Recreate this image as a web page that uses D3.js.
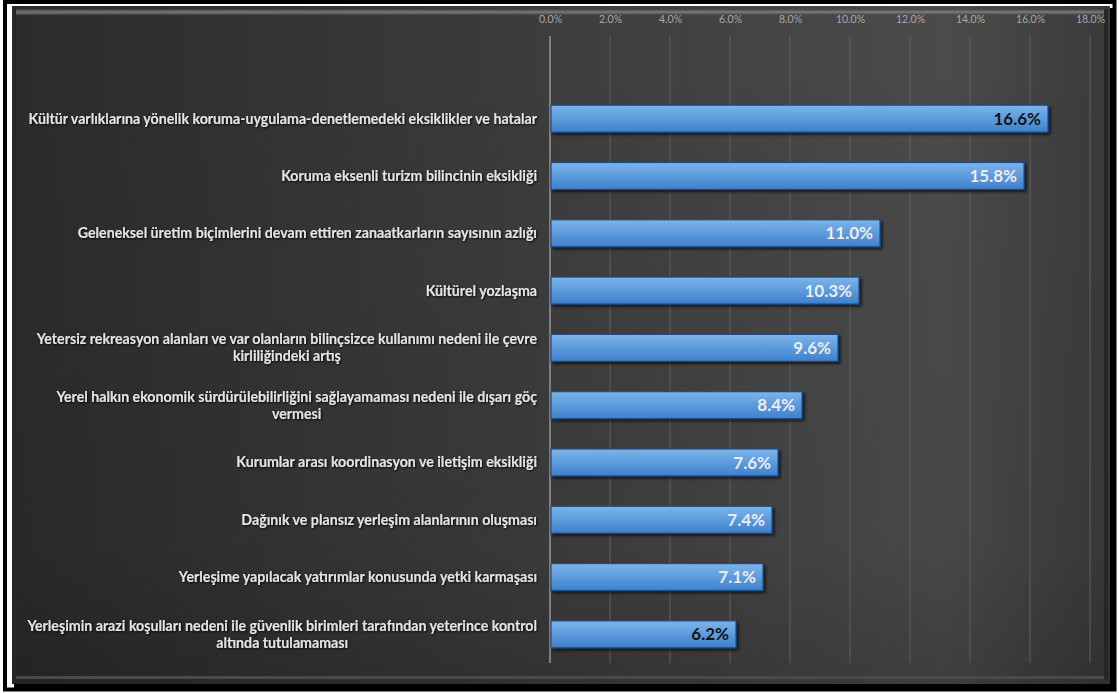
<!DOCTYPE html>
<html><head><meta charset="utf-8">
<script src="https://cdn.jsdelivr.net/npm/d3@7"></script>
<style>html,body{margin:0;padding:0;background:#fff;}svg{display:block;}</style>
</head><body>
<script>
const categories = [
  "Kültür varlıklarına yönelik koruma-uygulama-denetlemedeki eksiklikler ve hatalar",
  "Koruma eksenli turizm bilincinin eksikliği",
  "Geleneksel üretim biçimlerini devam ettiren zanaatkarların sayısının azlığı",
  "Kültürel yozlaşma",
  "Yetersiz rekreasyon alanları ve var olanların bilinçsizce kullanımı nedeni ile çevre\nkirliliğindeki artış",
  "Yerel halkın ekonomik sürdürülebilirliğini sağlayamaması nedeni ile dışarı göç\nvermesi",
  "Kurumlar arası koordinasyon ve iletişim eksikliği",
  "Dağınık ve plansız yerleşim alanlarının oluşması",
  "Yerleşime yapılacak yatırımlar konusunda yetki karmaşası",
  "Yerleşimin arazi koşulları nedeni ile güvenlik birimleri tarafından yeterince kontrol\naltında tutulamaması"
];
const values = [0.166, 0.158, 0.110, 0.103, 0.096, 0.084, 0.076, 0.074, 0.071, 0.062];
const labelDark = [true, false, false, false, false, false, false, false, false, true];
const tickValues = [0, 0.02, 0.04, 0.06, 0.08, 0.10, 0.12, 0.14, 0.16, 0.18];

const W = 1119, H = 693;
const svg = d3.select("body").append("svg").attr("width", W).attr("height", H);
const defs = svg.append("defs");

const bg = defs.append("linearGradient").attr("id","bg").attr("x1","0").attr("x2","1").attr("y1","0").attr("y2","0");
bg.append("stop").attr("offset","0").attr("stop-color","#2b2b2b");
bg.append("stop").attr("offset","0.55").attr("stop-color","#3f3f3f");
bg.append("stop").attr("offset","0.85").attr("stop-color","#4b4b4b");
bg.append("stop").attr("offset","1").attr("stop-color","#3a3a3a");

const vg = defs.append("linearGradient").attr("id","vg").attr("x1","0").attr("x2","0").attr("y1","0").attr("y2","1");
vg.append("stop").attr("offset","0").attr("stop-color","#000").attr("stop-opacity",0);
vg.append("stop").attr("offset","0.8").attr("stop-color","#000").attr("stop-opacity",0.05);
vg.append("stop").attr("offset","1").attr("stop-color","#000").attr("stop-opacity",0.18);

const bevelTop = defs.append("linearGradient").attr("id","bt").attr("x1","0").attr("x2","0").attr("y1","0").attr("y2","1");
bevelTop.append("stop").attr("offset","0").attr("stop-color","#3a3a3a");
bevelTop.append("stop").attr("offset","0.5").attr("stop-color","#8a8a8a");
bevelTop.append("stop").attr("offset","1").attr("stop-color","#444");

const barG = defs.append("linearGradient").attr("id","barg").attr("x1","0").attr("x2","0").attr("y1","0").attr("y2","1");
barG.append("stop").attr("offset","0").attr("stop-color","#7db4ea");
barG.append("stop").attr("offset","0.5").attr("stop-color","#5c9bdc");
barG.append("stop").attr("offset","1").attr("stop-color","#3f80cc");

const sh = defs.append("filter").attr("id","tsh").attr("x","-5%").attr("y","-30%").attr("width","110%").attr("height","160%");
sh.append("feDropShadow").attr("dx",1).attr("dy",1).attr("stdDeviation",0.8).attr("flood-color","#000").attr("flood-opacity",0.9);

const bsh = defs.append("filter").attr("id","bsh").attr("x","-5%").attr("y","-30%").attr("width","110%").attr("height","180%");
bsh.append("feDropShadow").attr("dx",2).attr("dy",2).attr("stdDeviation",1.5).attr("flood-color","#000").attr("flood-opacity",0.7);

// frame
svg.append("rect").attr("x",0).attr("y",0).attr("width",W).attr("height",H).attr("fill","#fff");
svg.append("rect").attr("x",5).attr("y",2).attr("width",1109.5).attr("height",687.5)
  .attr("fill","none").attr("stroke","#000").attr("stroke-width",4);
// panel shadow
svg.append("rect").attr("x",14).attr("y",8).attr("width",1100).attr("height",681).attr("fill","#000");
// panel
svg.append("rect").attr("x",12).attr("y",6).attr("width",1098).attr("height",678).attr("fill","url(#bg)");
svg.append("rect").attr("x",12).attr("y",6).attr("width",1098).attr("height",678).attr("fill","url(#vg)");
svg.append("rect").attr("x",16).attr("y",9).attr("width",1090).attr("height",6).attr("fill","url(#bt)").attr("opacity",0.8);
svg.append("rect").attr("x",16).attr("y",676).attr("width",1090).attr("height",3).attr("fill","#4a4a4a");
svg.append("rect").attr("x",1104).attr("y",9).attr("width",4).attr("height",670).attr("fill","#262626");
svg.append("rect").attr("x",13).attr("y",9).attr("width",3).attr("height",670).attr("fill","#262626");

const x = d3.scaleLinear().domain([0, 0.18]).range([550, 1090]);
const y = d3.scaleBand().domain(categories).range([90, 663]).paddingInner(0.53).paddingOuter(0.265);
const plotTop = 36, plotBottom = 663;

// gridlines
svg.append("g").selectAll("line").data(tickValues.slice(1)).join("line")
  .attr("x1", d => x(d)).attr("x2", d => x(d))
  .attr("y1", plotTop).attr("y2", plotBottom)
  .attr("stroke", "#606060").attr("stroke-width", 1);

// top axis
const ax = svg.append("g").attr("transform", `translate(0,${plotTop})`)
  .call(d3.axisTop(x).tickValues(tickValues).tickFormat(d3.format(".1%")).tickSize(0).tickPadding(13));
ax.select(".domain").remove();
ax.selectAll("text").attr("fill","#a8a8a8").style("font-family","Lato, 'Open Sans', sans-serif").style("font-size","10.5px");

// category axis line
svg.append("line").attr("x1", x(0)).attr("x2", x(0)).attr("y1", plotTop).attr("y2", plotBottom)
  .attr("stroke","#b0b0b0").attr("stroke-width",1.2);

// bars
svg.append("g").selectAll("rect").data(values).join("rect")
  .attr("x", x(0) + 1)
  .attr("y", (d,i) => y(categories[i]))
  .attr("width", d => x(d) - x(0) - 1)
  .attr("height", y.bandwidth())
  .attr("fill", "url(#barg)")
  .attr("stroke", "#1f4d86").attr("stroke-width", 1.2)
  .attr("filter", "url(#bsh)");

// value labels
svg.append("g").selectAll("text").data(values).join("text")
  .attr("x", d => x(d) - 7)
  .attr("y", (d,i) => y(categories[i]) + y.bandwidth()/2)
  .attr("dy", "0.36em")
  .attr("text-anchor", "end")
  .attr("fill", (d,i) => labelDark[i] ? "#141414" : "#ececec")
  .style("font-family", "Lato, 'Open Sans', sans-serif").style("font-weight", "bold").style("font-size", "17px")
  .text(d => d3.format(".1%")(d));

// category labels
const labelRight = 537;
const cg = svg.append("g").attr("filter","url(#tsh)");
categories.forEach((c, i) => {
  const lines = c.split("\n");
  const cy = y(c) + y.bandwidth()/2;
  const lh = 17;
  const t = cg.append("text")
    .attr("fill", "#e4e4e4")
    .style("font-family", "Lato, 'Open Sans', sans-serif").style("font-weight", "bold").style("font-size", "14.2px");
  const spans = lines.map((ln, k) => t.append("tspan")
    .attr("y", cy + (k - (lines.length - 1)/2) * lh)
    .attr("dy", "0.35em").text(ln));
  const widths = spans.map(s => s.node().getComputedTextLength());
  const maxW = d3.max(widths);
  const center = labelRight - maxW/2;
  spans.forEach(s => s.attr("x", center).attr("text-anchor", "middle"));
});
</script>
</body></html>
